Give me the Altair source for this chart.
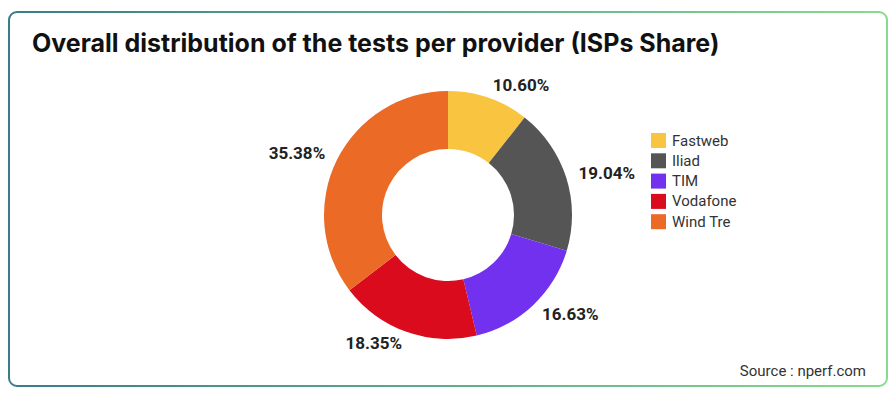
import altair as alt
import pandas as pd

# ---- data ----
providers = ["Fastweb", "Iliad", "TIM", "Vodafone", "Wind Tre"]
shares = [10.60, 19.04, 16.63, 18.35, 35.38]
colors = ["#F9C440", "#555555", "#7231EE", "#D90B1C", "#EB6A26"]
title_text = "Overall distribution of the tests per provider (ISPs Share)"
source_text = "Source : nperf.com"

df = pd.DataFrame({"provider": providers, "share": shares,
                   "idx": list(range(len(providers)))})
one = pd.DataFrame({"k": [0]})

W, H = 880, 381
CX, CY = 440, 207

border = alt.Chart(one).mark_rect(
    fill="white",
    stroke={"gradient": "linear", "x1": 0, "y1": 0, "x2": 1, "y2": 0,
            "stops": [{"offset": 0, "color": "#3b7b8a"},
                      {"offset": 1, "color": "#86dc8e"}]},
    strokeWidth=2, cornerRadius=8,
).encode(x=alt.value(1), x2=alt.value(879), y=alt.value(4), y2=alt.value(378))

base = alt.Chart(df).transform_window(
    cum="sum(share)", sort=[alt.SortField("idx")], frame=[None, 0]
).transform_calculate(
    mid="datum.cum - datum.share / 2",
    label="format(datum.share, '.2f') + '%'",
).encode(
    theta=alt.Theta("share:Q", stack=True),
    order=alt.Order("idx:Q"),
    x=alt.value(CX), y=alt.value(CY),
)

arcs = base.mark_arc(innerRadius=66, outerRadius=124).encode(
    color=alt.Color("provider:N",
                    scale=alt.Scale(domain=providers, range=colors),
                    legend=alt.Legend(title=None, orient="none",
                                      legendX=643, legendY=125,
                                      symbolType="square", symbolSize=225,
                                      symbolStrokeWidth=0, symbolOpacity=1,
                                      labelFont="Roboto", labelFontSize=15,
                                      labelColor="#333333", rowPadding=4.3,
                                      labelOffset=6, padding=0))
)

lab_style = dict(radius=137, baseline="middle", font="Roboto",
                 fontWeight="bold", fontSize=17, color="#222222")
right_labels = base.mark_text(align="left", **lab_style).encode(
    text="label:N",
    opacity=alt.condition("datum.mid < 50", alt.value(1), alt.value(0)),
)
left_labels = base.mark_text(align="right", **lab_style).encode(
    text="label:N",
    opacity=alt.condition("datum.mid >= 50", alt.value(1), alt.value(0)),
)

title = alt.Chart(one).mark_text(
    text=title_text, font="Inter", fontWeight=700, fontSize=25,
    align="left", baseline="alphabetic", color="#111111",
).encode(x=alt.value(24), y=alt.value(44))

source = alt.Chart(one).mark_text(
    text=source_text, font="Roboto", fontSize=15,
    align="right", baseline="middle", color="#333333",
).encode(x=alt.value(858), y=alt.value(363))

chart = alt.layer(border, arcs, right_labels, left_labels, title, source).properties(
    width=W, height=H, padding=0, autosize="none"
).configure_view(stroke=None)

chart.save("out.html", embed_options={"renderer": "svg", "actions": False})
